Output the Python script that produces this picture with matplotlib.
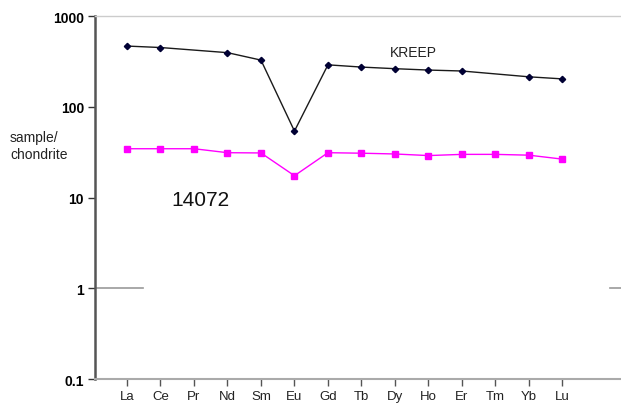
import numpy as np
import matplotlib.pyplot as plt

plt.rcParams['font.family'] = ['Liberation Sans', 'DejaVu Sans']

# REE labels along the x axis
elements = ["La", "Ce", "Pr", "Nd", "Sm", "Eu", "Gd", "Tb", "Dy", "Ho", "Er", "Tm", "Yb", "Lu"]

# KREEP (no Pr, Tm values)
kreep_el = ["La", "Ce", "Nd", "Sm", "Eu", "Gd", "Tb", "Dy", "Ho", "Er", "Yb", "Lu"]
kreep_val = [467, 450, 395, 327, 54, 290, 274, 263, 254, 248, 214, 203]

# sample 14072
s14072_val = [34.5, 34.5, 34.5, 31.2, 31, 17.4, 31.2, 30.8, 30.2, 29, 29.9, 29.9, 29.3, 26.5]

yticks = [0.1, 1, 10, 100, 1000]
ytick_labels = ["0.1", "1", "10", "100", "1000"]

xpos = np.arange(len(elements))
kreep_x = [elements.index(e) for e in kreep_el]

fig = plt.figure(figsize=(6.21, 4.06), dpi=100)
ax = fig.add_axes([0.153, 0.064, 0.847, 0.894])

ax.plot(kreep_x, kreep_val, color="#1a1a1a", lw=1.0, marker="D", ms=3.2,
        mfc="#000033", mec="#000033", zorder=3)
ax.plot(xpos, s14072_val, color="#ff00ff", lw=1.0, marker="s", ms=4,
        mfc="#ff00ff", mec="#ff00ff", zorder=3)

ax.set_yscale("log")
ax.set_ylim(0.1, 1000)
ax.set_xlim(-0.955, 14.75)

ax.set_yticks(yticks)
ax.set_yticklabels(ytick_labels, fontweight="bold", fontsize=10)
ax.yaxis.set_minor_locator(plt.NullLocator())
ax.set_xticks(xpos)
ax.set_xticklabels(elements, fontsize=9.5, color="#222222")
ax.tick_params(axis="x", direction="out", length=5, width=1, color="#555555", pad=3)
ax.tick_params(axis="y", direction="out", length=5, width=1, color="#333333", pad=3)

# spines
ax.spines["left"].set_color("#555555")
ax.spines["left"].set_linewidth(1.8)
ax.spines["bottom"].set_color("#aaaaaa")
ax.spines["bottom"].set_linewidth(1.5)
ax.spines["top"].set_color("#cccccc")
ax.spines["top"].set_linewidth(1.0)
ax.spines["right"].set_visible(False)

# partial gridline at 1 and small mark on right
ax.axhline(1, xmin=0, xmax=0.091, color="#999999", lw=1.2)
ax.axhline(1, xmin=0.98, xmax=1.0, color="#999999", lw=1.2)

ax.text(8.54, 400, "KREEP", fontsize=10, color="#222222", ha="center", va="center")
ax.text(2.2, 9.5, "14072", fontsize=15, color="#111111", ha="center", va="center")
fig.text(0.016, 0.639, "sample/\nchondrite", fontsize=10, color="#222222",
         ha="left", va="center", linespacing=1.3)

fig.savefig("out.png", dpi=100)
